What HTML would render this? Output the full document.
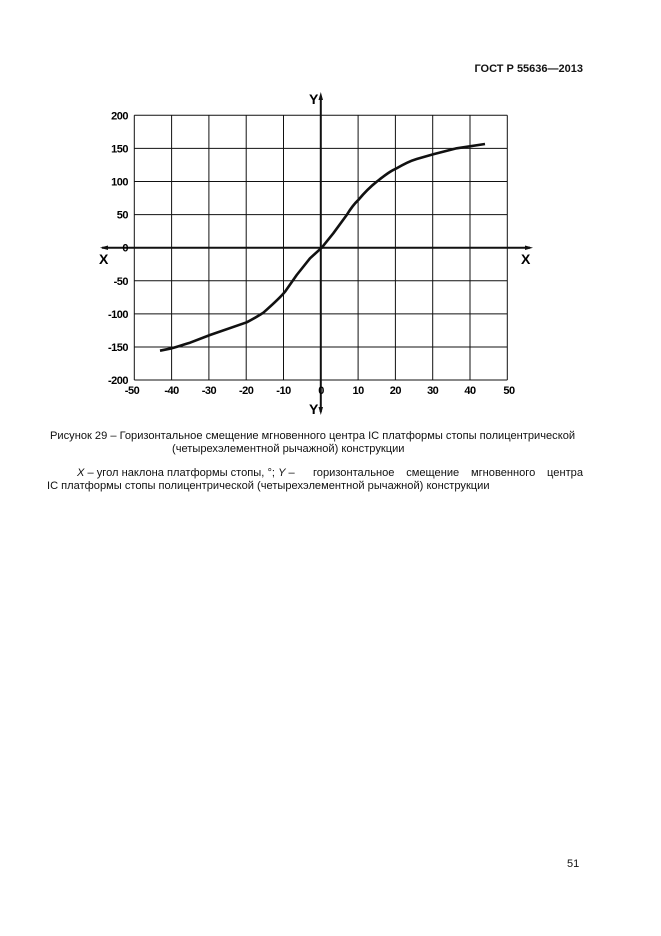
<!DOCTYPE html>
<html><head><meta charset="utf-8"><style>
body{margin:0;background:#fff;}
.p{position:relative;width:661px;height:936px;background:#fff;font-family:"Liberation Sans",sans-serif;color:#111;overflow:hidden}
.t{position:absolute;white-space:nowrap;font-size:11.1px}
</style></head><body><div class="p">
<div class="t" style="right:78px;top:63px;font-weight:bold;font-size:11px">ГОСТ Р 55636—2013</div>
<svg width="661" height="936" style="position:absolute;left:0;top:0" font-family="Liberation Sans" font-weight="bold" font-size="11">
<g stroke="#111" stroke-width="1">
<line x1="134.3" y1="115.3" x2="507.3" y2="115.3"/><line x1="134.3" y1="148.4" x2="507.3" y2="148.4"/><line x1="134.3" y1="181.5" x2="507.3" y2="181.5"/><line x1="134.3" y1="214.6" x2="507.3" y2="214.6"/><line x1="134.3" y1="280.8" x2="507.3" y2="280.8"/><line x1="134.3" y1="313.9" x2="507.3" y2="313.9"/><line x1="134.3" y1="347" x2="507.3" y2="347"/><line x1="134.3" y1="380" x2="507.3" y2="380"/>
<line x1="134.3" y1="115.3" x2="134.3" y2="380"/><line x1="171.6" y1="115.3" x2="171.6" y2="380"/><line x1="208.9" y1="115.3" x2="208.9" y2="380"/><line x1="246.2" y1="115.3" x2="246.2" y2="380"/><line x1="283.5" y1="115.3" x2="283.5" y2="380"/><line x1="358.1" y1="115.3" x2="358.1" y2="380"/><line x1="395.4" y1="115.3" x2="395.4" y2="380"/><line x1="432.7" y1="115.3" x2="432.7" y2="380"/><line x1="470" y1="115.3" x2="470" y2="380"/><line x1="507.3" y1="115.3" x2="507.3" y2="380"/>
</g>
<g stroke="#111" stroke-width="2"><line x1="102" y1="247.7" x2="530" y2="247.7"/><line x1="320.8" y1="96" x2="320.8" y2="412"/></g>
<g fill="#111"><polygon points="100,247.7 108,245.5 108,250"/><polygon points="533,247.7 525,245.5 525,250"/><polygon points="320.8,92 318.5,100 323,100"/><polygon points="320.8,415 318.5,407 323,407"/></g>
<path d="M160,350.7 L171.7,348.3 C180,346 185,344 190,342.7 L210,335 L246.7,322.3 C255,318 258,316 263.3,312.7 C272,305 280,298 285,291.7 L296.7,275 L310,258.3 L321.7,247.7 L333.3,233.3 L346.7,215 C351,208 354,204 358.3,200 C365,192 370,187 376.7,181.7 C384,176 390,171 396.7,168.3 C404,164 410,161 416.7,159 L433.3,154.3 L456.7,148.3 L485,144" fill="none" stroke="#111" stroke-width="2.6" stroke-linejoin="round"/>
<g text-anchor="end" letter-spacing="-0.5"><text x="128" y="119.5">200</text><text x="128" y="152.5">150</text><text x="128" y="185.5">100</text><text x="128" y="218.5">50</text><text x="128" y="251.5">0</text><text x="128" y="285">-50</text><text x="128" y="318">-100</text><text x="128" y="351">-150</text><text x="128" y="384">-200</text></g>
<g text-anchor="middle" letter-spacing="-0.5"><text x="132" y="394">-50</text><text x="171.6" y="394">-40</text><text x="208.9" y="394">-30</text><text x="246.2" y="394">-20</text><text x="283.5" y="394">-10</text><text x="321" y="394">0</text><text x="358.1" y="394">10</text><text x="395.4" y="394">20</text><text x="432.7" y="394">30</text><text x="470" y="394">40</text><text x="509" y="394">50</text></g>
<g font-size="14"><text x="309" y="104">Y</text><text x="309" y="414">Y</text><text x="99" y="264">X</text><text x="521" y="264">X</text></g>
</svg>
<div class="t" style="left:50px;top:430px">Рисунок 29 – Горизонтальное смещение мгновенного центра IC платформы стопы полицентрической</div>
<div class="t" style="left:172px;top:443px">(четырехэлементной рычажной) конструкции</div>
<div class="t" style="left:77px;top:467px"><i>X</i> – угол наклона платформы стопы, °; <i>Y</i> –</div>
<div class="t" style="left:313px;top:467px;width:270px;text-align:justify;text-align-last:justify">горизонтальное смещение мгновенного центра</div>
<div class="t" style="left:47px;top:480px">IC платформы стопы полицентрической (четырехэлементной рычажной) конструкции</div>
<div class="t" style="left:567px;top:858px;font-size:11px">51</div>
</div></body></html>
